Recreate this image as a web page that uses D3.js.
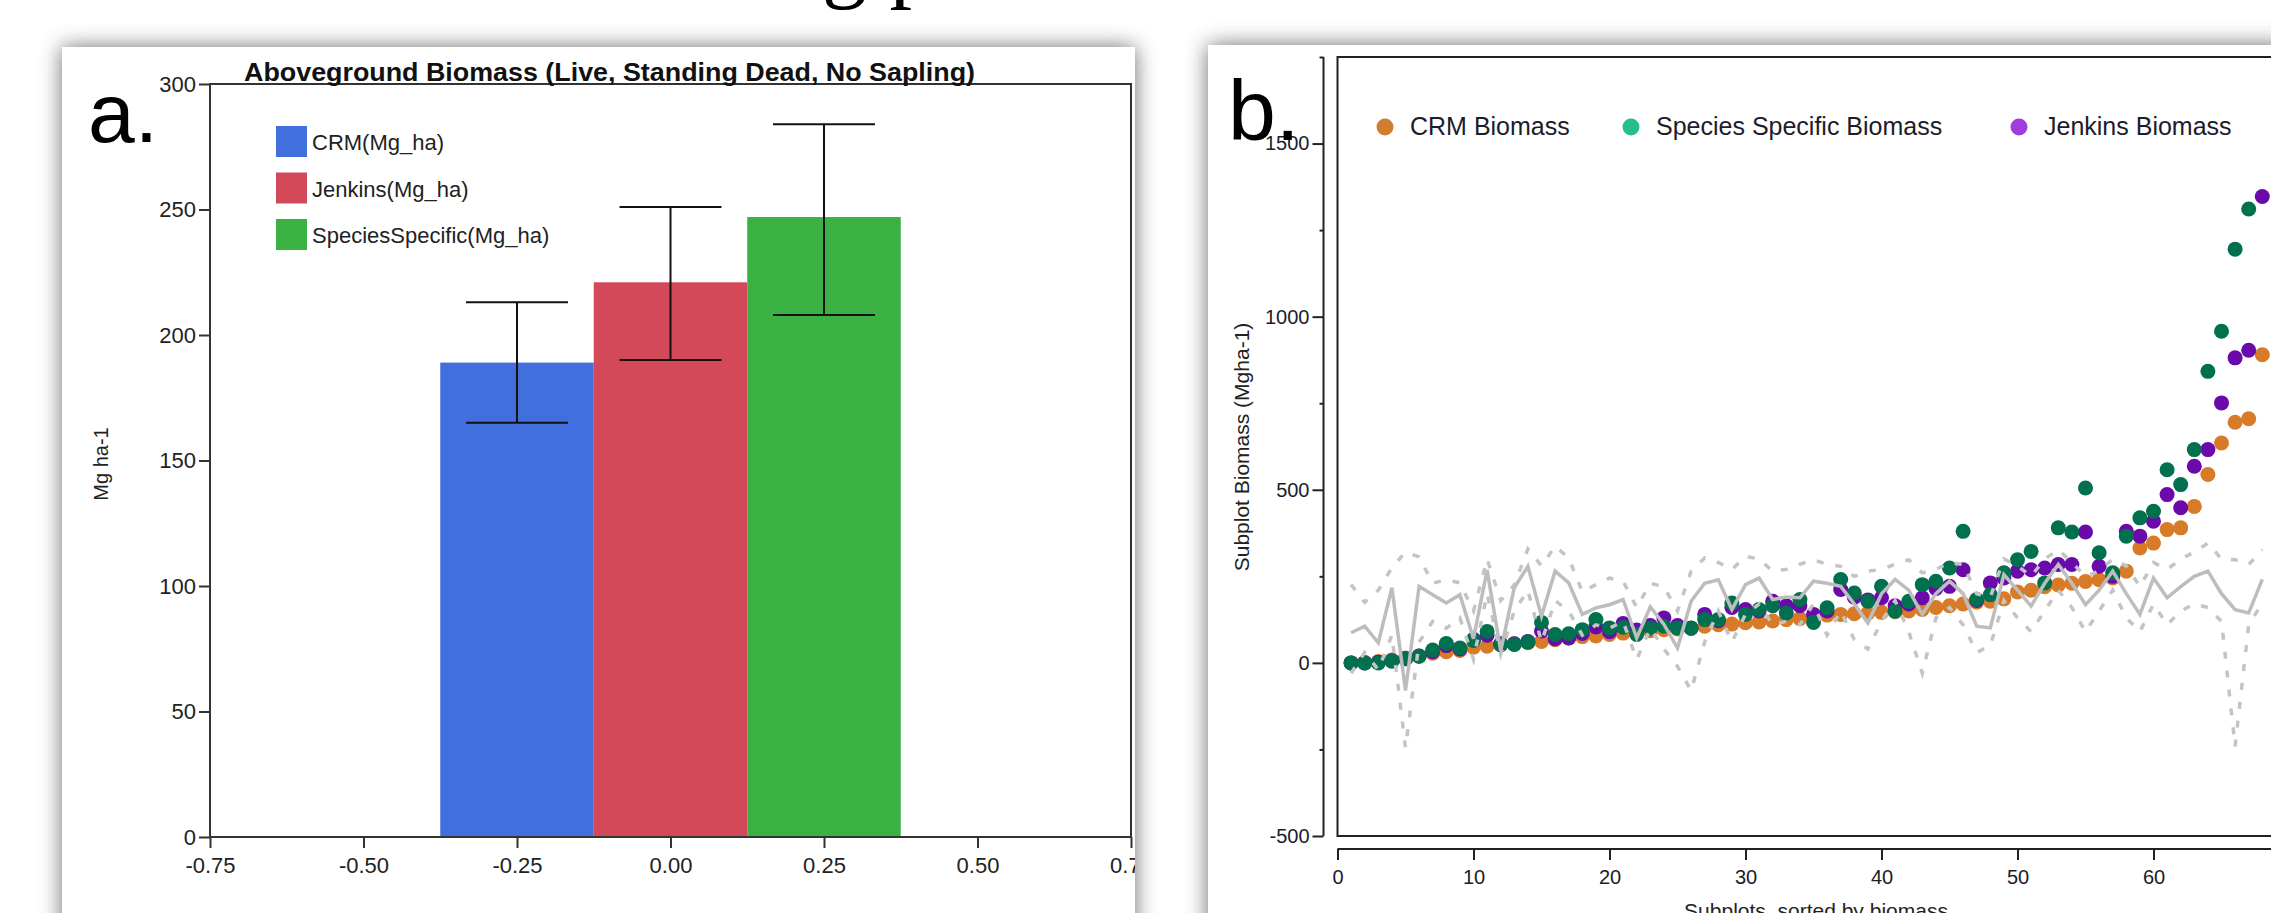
<!DOCTYPE html>
<html>
<head>
<meta charset="utf-8">
<script src="https://cdn.jsdelivr.net/npm/d3@7"></script>
<style>
body { margin: 0; background: #fff; }
svg { display: block; }
text { font-family: "Liberation Sans", Arial, sans-serif; }
</style>
</head>
<body>
<svg id="fig" width="2271" height="913"></svg>
<script>
// panel a: bar chart data
const barCats = ["CRM(Mg_ha)", "Jenkins(Mg_ha)", "SpeciesSpecific(Mg_ha)"];
const barPos = [-0.25, 0, 0.25];
const barMean = [189, 221, 247];
const barLow = [165, 190, 208];
const barHigh = [213, 251, 284];
const barColors = ["#4170de", "#d4495a", "#3bb143"];
const yTicksA = [0, 50, 100, 150, 200, 250, 300];
const xTicksA = [-0.75, -0.5, -0.25, 0, 0.25, 0.5, 0.75];

// panel b: subplot biomass, sorted (index 1..n)
const crm = [0, 2, 4, 8, 14, 20, 28, 32, 36, 45, 48, 52, 55, 58, 62, 67, 72, 76, 78, 82,
  86, 90, 93, 96, 98, 100, 106, 110, 112, 116, 118, 121, 125, 128, 130, 138, 140, 142, 144, 146,
  148, 150, 154, 160, 165, 170, 175, 178, 185, 205, 210, 220, 225, 230, 235, 240, 245, 265, 332, 346,
  385, 390, 452, 544, 635, 695, 705, 890];
const jenkins = [0, 0, 2, 6, 12, 20, 32, 50, 40, 68, 80, 55, 55, 62, 92, 70, 72, 85, 104, 90,
  114, 95, 108, 130, 108, 100, 140, 122, 160, 154, 150, 178, 165, 165, 140, 150, 212, 190, 182, 188,
  165, 170, 188, 215, 221, 269, 180, 231, 245, 265, 269, 274, 284, 284, 378, 279, 250, 380, 366, 409,
  486, 448, 568, 616, 751, 881, 903, 1347];
const species = [0, 0, 0, 5, 12, 19, 37, 56, 43, 65, 91, 53, 53, 60, 117, 82, 84, 96, 125, 101,
  103, 82, 101, 106, 101, 101, 125, 125, 173, 140, 154, 165, 144, 183, 117, 159, 241, 202, 178, 221,
  149, 178, 226, 236, 274, 380, 183, 197, 260, 298, 322, 231, 390, 378, 505, 318, 260, 366, 419, 438,
  558, 515, 616, 842, 958, 1195, 1311];
const diffMid = [87, 106, 58, 217, -80, 221, 197, 173, 197, 70, 268, 35, 217, 279, 135, 265, 231, 140, 159, 168,
  183, 72, 162, 111, 43, 178, 230, 240, 154, 226, 245, 183, 190, 188, 236, 230, 221, 170, 115, 200,
  241, 210, 140, 200, 236, 200, 106, 101, 255, 210, 164, 230, 284, 230, 168, 210, 265, 200, 140, 245,
  188, 220, 250, 265, 200, 154, 144, 241];
const diffHigh = [226, 175, 210, 275, 320, 306, 230, 240, 231, 150, 300, 180, 225, 329, 280, 337, 303, 205, 226, 245,
  236, 160, 230, 220, 150, 265, 303, 290, 270, 308, 300, 265, 270, 285, 298, 285, 279, 250, 265, 270,
  285, 298, 260, 270, 290, 284, 200, 190, 300, 280, 250, 300, 327, 290, 250, 265, 300, 280, 220, 290,
  270, 300, 320, 346, 300, 298, 284, 327];
const diffLow = [-30, 30, -20, 80, -245, 60, 120, 100, 130, 10, 200, 25, 150, 210, 60, 180, 150, 80, 110, 100,
  120, 10, 100, 40, -10, -80, 60, 150, 60, 140, 170, 110, 120, 110, 170, 80, 150, 67, 40, 120,
  180, 90, -30, 130, 160, 110, 30, 50, 180, 130, 90, 150, 210, 160, 90, 150, 210, 130, 90, 170,
  110, 150, 170, 160, 120, -241, 110, 173];
const seriesB = [
  { name: "CRM Biomass", values: crm, dot: "#d77b29", key: "#d07e2e" },
  { name: "Jenkins Biomass", values: jenkins, dot: "#6b0aab", key: "#a23bdb" },
  { name: "Species Specific Biomass", values: species, dot: "#00704f", key: "#27be8f" }
];
const legendOrderB = ["CRM Biomass", "Species Specific Biomass", "Jenkins Biomass"];
const yMajorB = [-500, 0, 500, 1000, 1500];
const yMinorB = [-250, 250, 750, 1250, 1750];
const xTicksB = [0, 10, 20, 30, 40, 50, 60, 70];

const svg = d3.select("#fig");
const defs = svg.append("defs");
defs.append("filter").attr("id", "blur")
    .attr("x", "-20%").attr("y", "-20%").attr("width", "140%").attr("height", "140%")
    .append("feGaussianBlur").attr("stdDeviation", 11);
defs.append("clipPath").attr("id", "clipA").append("rect")
    .attr("x", 62).attr("y", 47).attr("width", 1073).attr("height", 900);
defs.append("clipPath").attr("id", "clipB").append("rect")
    .attr("x", 1208).attr("y", 45).attr("width", 1100).attr("height", 900);

// cut-off slide title above the panels
svg.append("text")
    .attr("x", 822).attr("y", -9)
    .style("font-family", "'Liberation Serif', serif")
    .style("font-size", "90px")
    .text("g p");

// shadows + white panels
[[62, 47, 1073], [1208, 45, 1100]].forEach(p => {
    svg.append("rect").attr("x", p[0]).attr("y", p[1]).attr("width", p[2]).attr("height", 900)
        .attr("fill", "#555").attr("opacity", 0.85).attr("filter", "url(#blur)");
});
[[62, 47, 1073], [1208, 45, 1100]].forEach(p => {
    svg.append("rect").attr("x", p[0]).attr("y", p[1]).attr("width", p[2]).attr("height", 900)
        .attr("fill", "#fff");
});

// ---------- panel a ----------
const gA = svg.append("g").attr("clip-path", "url(#clipA)");
const xA = d3.scaleLinear().domain([-0.75, 0.75]).range([210, 1131]);
const yA = d3.scaleLinear().domain([0, 300]).range([837, 84]);

gA.selectAll("rect.bar")
    .data(barCats)
    .join("rect")
    .attr("class", "bar")
    .attr("x", (d, i) => xA(barPos[i] - 0.125))
    .attr("width", xA(0.125) - xA(-0.125))
    .attr("y", (d, i) => yA(barMean[i]))
    .attr("height", (d, i) => yA(0) - yA(barMean[i]))
    .attr("fill", (d, i) => barColors[i]);

// error bars
const err = gA.append("g").attr("stroke", "#111").attr("stroke-width", 2);
barCats.forEach((d, i) => {
    err.append("line")
        .attr("x1", xA(barPos[i])).attr("x2", xA(barPos[i]))
        .attr("y1", yA(barLow[i])).attr("y2", yA(barHigh[i]));
    [barLow[i], barHigh[i]].forEach(v => {
        err.append("line")
            .attr("x1", xA(barPos[i] - 0.083)).attr("x2", xA(barPos[i] + 0.083))
            .attr("y1", yA(v)).attr("y2", yA(v));
    });
});

gA.append("path")
    .attr("d", `M${xA(-0.75)},${yA(300)}H${xA(0.75)}V${yA(0)}H${xA(-0.75)}Z`)
    .attr("fill", "none").attr("stroke", "#333").attr("stroke-width", 2);

const axYA = gA.append("g")
    .attr("transform", `translate(${xA(-0.75)},0)`)
    .call(d3.axisLeft(yA).tickValues(yTicksA).tickSize(11).tickPadding(3));
const axXA = gA.append("g")
    .attr("transform", `translate(0,${yA(0)})`)
    .call(d3.axisBottom(xA).tickValues(xTicksA).tickSize(11).tickPadding(9)
        .tickFormat(d => d.toFixed(2)));
[axYA, axXA].forEach(ax => {
    ax.select(".domain").remove();
    ax.selectAll("line").attr("stroke", "#333").attr("stroke-width", 2);
    ax.selectAll("text").attr("fill", "#222").style("font-size", "22px");
});

gA.append("text")
    .attr("x", 244).attr("y", 81)
    .attr("textLength", 731).attr("lengthAdjust", "spacingAndGlyphs")
    .style("font-weight", "bold").style("font-size", "25px").attr("fill", "#111")
    .text("Aboveground Biomass (Live, Standing Dead, No Sapling)");

gA.append("text")
    .attr("transform", "translate(108,464) rotate(-90)")
    .attr("text-anchor", "middle")
    .style("font-size", "20px").attr("fill", "#222")
    .text("Mg ha-1");

const legA = gA.append("g");
barCats.forEach((d, i) => {
    legA.append("rect")
        .attr("x", 276).attr("y", 126 + 46.5 * i)
        .attr("width", 31).attr("height", 31)
        .attr("fill", barColors[i]);
    legA.append("text")
        .attr("x", 312).attr("y", 150 + 46.5 * i)
        .style("font-size", "22px").attr("fill", "#222")
        .text(d);
});

gA.append("text")
    .attr("x", 88).attr("y", 142)
    .style("font-size", "84px").attr("fill", "#000")
    .text("a.");

// ---------- panel b ----------
const gB = svg.append("g").attr("clip-path", "url(#clipB)");
const xB = d3.scaleLinear().domain([0, 70]).range([1337.5, 2289.5]);
const yB = d3.scaleLinear().domain([-500, 1750]).range([836, 57]);

gB.append("path")
    .attr("d", `M2320,${yB(1750)}H${xB(0)}V${yB(-500)}H2320`)
    .attr("fill", "none").attr("stroke", "#222").attr("stroke-width", 2);

seriesB.forEach(s => {
    gB.append("g").selectAll("circle")
        .data(s.values)
        .join("circle")
        .attr("cx", (d, i) => xB(i + 1))
        .attr("cy", d => yB(d))
        .attr("r", 7.5)
        .attr("fill", s.dot);
});

const line = d3.line().x((d, i) => xB(i + 1)).y(d => yB(d));
gB.append("path").datum(diffHigh).attr("d", line)
    .attr("fill", "none").attr("stroke", "#c4c4c4").attr("stroke-width", 3.5)
    .attr("stroke-dasharray", "7,12");
gB.append("path").datum(diffLow).attr("d", line)
    .attr("fill", "none").attr("stroke", "#c4c4c4").attr("stroke-width", 3.5)
    .attr("stroke-dasharray", "7,12");
gB.append("path").datum(diffMid).attr("d", line)
    .attr("fill", "none").attr("stroke", "#bdbdbd").attr("stroke-width", 3.5);

// detached axes (R style)
const axYB = gB.append("g")
    .attr("transform", "translate(1323.5,0)")
    .call(d3.axisLeft(yB).tickValues(yMajorB).tickSize(11).tickPadding(3)
        .tickFormat(d => String(d)));
const axYBminor = gB.append("g")
    .attr("transform", "translate(1323.5,0)")
    .call(d3.axisLeft(yB).tickValues(yMinorB).tickSize(4).tickFormat(""));
const axXB = gB.append("g")
    .attr("transform", "translate(0,849)")
    .call(d3.axisBottom(xB).tickValues(xTicksB).tickSize(11).tickPadding(10)
        .tickFormat(d => String(d)));
[axYB, axYBminor, axXB].forEach(ax => {
    ax.select(".domain").remove();
    ax.selectAll("line").attr("stroke", "#222").attr("stroke-width", 2);
    ax.selectAll("text").attr("fill", "#1c1c2a").style("font-size", "20px");
});
gB.append("line")
    .attr("x1", 1323.5).attr("x2", 1323.5)
    .attr("y1", yB(-500)).attr("y2", yB(1750))
    .attr("stroke", "#222").attr("stroke-width", 2);
gB.append("line")
    .attr("x1", xB(0)).attr("x2", xB(70))
    .attr("y1", 849).attr("y2", 849)
    .attr("stroke", "#222").attr("stroke-width", 2);

gB.append("text")
    .attr("transform", "translate(1249,447) rotate(-90)")
    .attr("text-anchor", "middle")
    .style("font-size", "21px").attr("fill", "#222")
    .text("Subplot Biomass (Mgha-1)");

gB.append("text")
    .attr("x", 1816).attr("y", 918)
    .attr("text-anchor", "middle")
    .style("font-size", "21px").attr("fill", "#222")
    .text("Subplots, sorted by biomass");

// legend
const legX = [1385, 1631, 2019];
legendOrderB.forEach((name, i) => {
    const s = seriesB.find(d => d.name === name);
    gB.append("circle")
        .attr("cx", legX[i]).attr("cy", 127).attr("r", 8.5)
        .attr("fill", s.key);
    gB.append("text")
        .attr("x", legX[i] + 25).attr("y", 135)
        .style("font-size", "25px").attr("fill", "#1c1c2a")
        .text(name);
});

gB.append("text")
    .attr("x", 1228).attr("y", 140)
    .style("font-size", "86px").attr("fill", "#000")
    .text("b.");
</script>
</body>
</html>
